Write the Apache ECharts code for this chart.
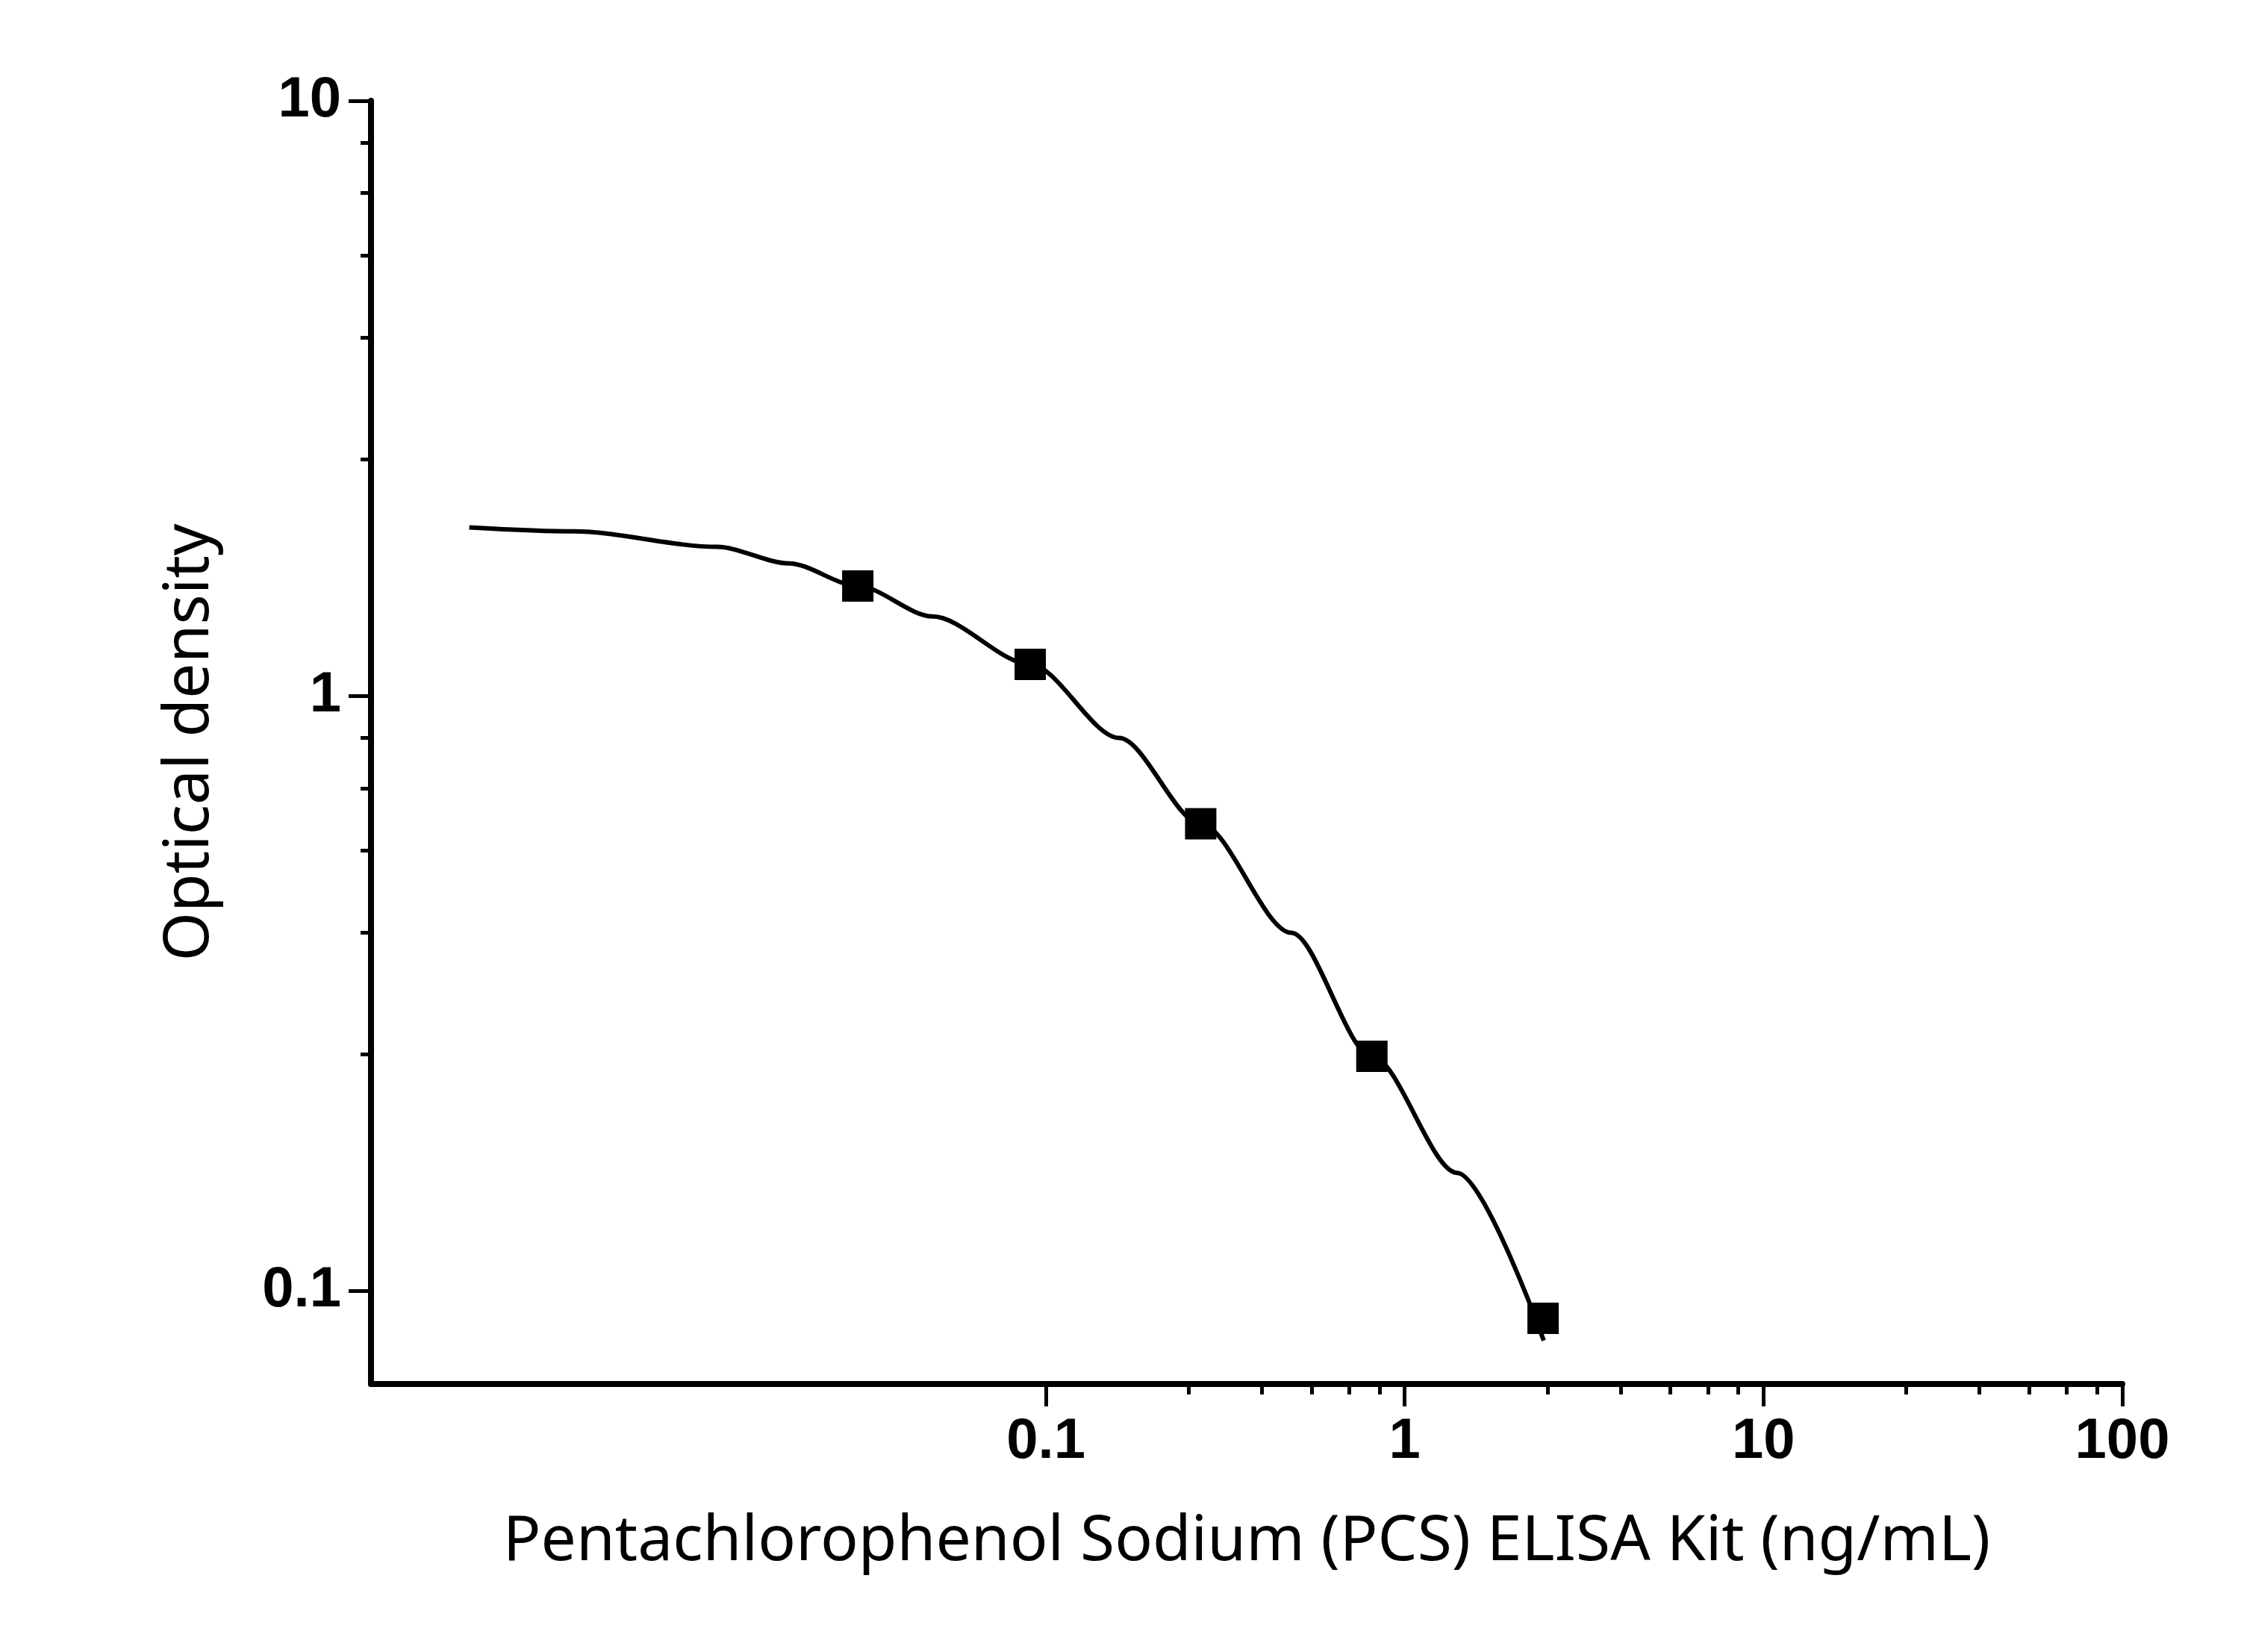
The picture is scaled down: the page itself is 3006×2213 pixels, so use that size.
<!DOCTYPE html>
<html>
<head>
<meta charset="utf-8">
<script src="https://cdn.jsdelivr.net/npm/echarts@6/dist/echarts.min.js"></script>
<style>html,body{margin:0;padding:0;background:#fff}#chart{width:3006px;height:2213px}</style>
</head>
<body>
<div id="chart"></div>
<script>
// measured standards (ng/mL, OD)
var concX = [0.0299, 0.0904, 0.27, 0.81, 2.43];
var odY = [1.53, 1.13, 0.61, 0.248, 0.090];
// fitted curve
var curveX = [0.00247, 0.00483, 0.01213, 0.01923, 0.0299, 0.0483, 0.0904, 0.16, 0.27, 0.483, 0.81, 1.4, 2.44];
var curveY = [1.92, 1.89, 1.78, 1.67, 1.53, 1.36, 1.13, 0.85, 0.61, 0.40, 0.248, 0.158, 0.0826];
var xMajor = [0.1, 1, 10, 100];
var yMajor = [0.1, 1, 10];
var minorMul = [2.5, 4, 5.5, 7, 8.5];

var lg = Math.log10;
function minors(decades) {
    var out = [];
    decades.forEach(function (d) { minorMul.forEach(function (m) { out.push(lg(d * m)); }); });
    return out;
}
var xMinor = minors([0.1, 1, 10]);
var yMinor = minors([0.1, 1]);

var chart = echarts.init(document.getElementById('chart'));
var labelFont = { color: '#000', fontSize: 76, fontWeight: 'bold', fontFamily: 'Liberation Sans' };
var nameFont = { color: '#000', fontSize: 84, fontFamily: 'Noto Sans' };
function fmt(v) { return String(Math.round(Math.pow(10, v) * 1000) / 1000); }

option = {
    animation: false,
    grid: { left: 497, right: 163, top: 135, bottom: 359, containLabel: false },
    xAxis: [
        {
            type: 'value', min: lg(0.001315), max: 2,
            name: 'Pentachlorophenol Sodium (PCS) ELISA Kit (ng/mL)',
            nameLocation: 'middle', nameGap: 170, nameTextStyle: nameFont,
            axisLine: { show: true, onZero: false, lineStyle: { color: '#000', width: 8 } },
            axisTick: { show: true, length: 30, lineStyle: { color: '#000', width: 5 }, customValues: xMajor.map(lg) },
            axisLabel: { show: true, margin: 40, customValues: xMajor.map(lg), formatter: fmt, textStyle: labelFont },
            splitLine: { show: false }
        },
        {
            type: 'value', min: lg(0.001315), max: 2, position: 'bottom',
            axisLine: { show: false, onZero: false },
            axisTick: { show: true, length: 14, lineStyle: { color: '#000', width: 5 }, customValues: xMinor },
            axisLabel: { show: false }, splitLine: { show: false }
        }
    ],
    yAxis: [
        {
            type: 'value', min: lg(0.0698), max: 1,
            name: 'Optical density',
            nameLocation: 'middle', nameGap: 200, nameTextStyle: nameFont,
            axisLine: { show: true, onZero: false, lineStyle: { color: '#000', width: 8 } },
            axisTick: { show: true, length: 30, lineStyle: { color: '#000', width: 5 }, customValues: yMajor.map(lg) },
            axisLabel: { show: true, margin: 40, customValues: yMajor.map(lg), formatter: fmt, textStyle: labelFont },
            splitLine: { show: false }
        },
        {
            type: 'value', min: lg(0.0698), max: 1, position: 'left',
            axisLine: { show: false, onZero: false },
            axisTick: { show: true, length: 14, lineStyle: { color: '#000', width: 5 }, customValues: yMinor },
            axisLabel: { show: false }, splitLine: { show: false }
        }
    ],
    series: [
        {
            name: 'fit', type: 'line', smooth: 0.3, smoothMonotone: 'x', showSymbol: false,
            lineStyle: { color: '#000', width: 6 },
            data: curveX.map(function (x, i) { return [lg(x), lg(curveY[i])]; })
        },
        {
            name: 'standards', type: 'scatter', symbol: 'rect', symbolSize: 42,
            itemStyle: { color: '#000', opacity: 1 },
            data: concX.map(function (x, i) { return [lg(x), lg(odY[i])]; })
        }
    ]
};
chart.setOption(option);
</script>
</body>
</html>
